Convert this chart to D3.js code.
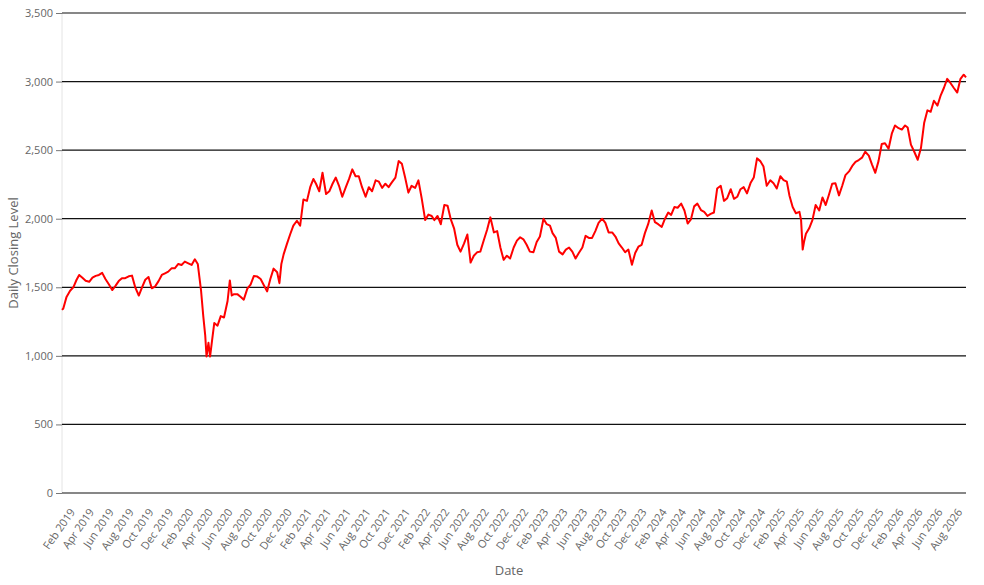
<!DOCTYPE html>
<html>
<head>
<meta charset="utf-8">
<script src="https://cdn.jsdelivr.net/npm/d3@7"></script>
<style>
  body { margin: 0; background: #fff; }
  svg text { font-family: "Open Sans", "DejaVu Sans", sans-serif; }
</style>
</head>
<body>
<svg id="chart"></svg>
<script>
(function(){

    // readings taken roughly every 10 days (1st, 11th, 21st) plus a few extra around the sharp drops
    var dates = [
        "2019-01-07","2019-01-11","2019-01-21","2019-02-01","2019-02-11","2019-02-21","2019-03-01","2019-03-11","2019-03-21",
        "2019-04-01","2019-04-11","2019-04-21","2019-05-01","2019-05-11","2019-05-21","2019-06-01","2019-06-11","2019-06-21",
        "2019-07-01","2019-07-11","2019-07-21","2019-08-01","2019-08-11","2019-08-21","2019-09-01","2019-09-11","2019-09-21",
        "2019-10-01","2019-10-11","2019-10-21","2019-11-01","2019-11-11","2019-11-21","2019-12-01","2019-12-11","2019-12-21",
        "2020-01-01","2020-01-11","2020-01-21","2020-02-01","2020-02-11","2020-02-21","2020-03-01","2020-03-11","2020-03-18",
        "2020-03-24","2020-03-28","2020-04-03","2020-04-08","2020-04-14","2020-04-21","2020-05-01","2020-05-11","2020-05-21",
        "2020-06-01","2020-06-08","2020-06-14","2020-06-21","2020-07-01","2020-07-11","2020-07-21","2020-08-01","2020-08-11",
        "2020-08-21","2020-09-01","2020-09-11","2020-09-21","2020-10-01","2020-10-11","2020-10-21","2020-11-01","2020-11-08",
        "2020-11-14","2020-11-21","2020-12-01","2020-12-11","2020-12-21",
        "2021-01-01","2021-01-11","2021-01-21","2021-02-01","2021-02-11","2021-02-21","2021-03-01","2021-03-11","2021-03-21",
        "2021-04-01","2021-04-11","2021-04-21","2021-05-01","2021-05-11","2021-05-21","2021-06-01","2021-06-11","2021-06-21",
        "2021-07-01","2021-07-11","2021-07-21","2021-08-01","2021-08-11","2021-08-21","2021-09-01","2021-09-11","2021-09-21",
        "2021-10-01","2021-10-11","2021-10-21","2021-11-01","2021-11-11","2021-11-21","2021-12-01","2021-12-11","2021-12-21",
        "2022-01-01","2022-01-11","2022-01-21","2022-02-01","2022-02-11","2022-02-21","2022-03-01","2022-03-11","2022-03-21",
        "2022-04-01","2022-04-11","2022-04-21","2022-05-01","2022-05-11","2022-05-21","2022-06-01","2022-06-11","2022-06-21",
        "2022-07-01","2022-07-11","2022-07-21","2022-08-01","2022-08-11","2022-08-21","2022-09-01","2022-09-11","2022-09-21",
        "2022-10-01","2022-10-11","2022-10-21","2022-11-01","2022-11-11","2022-11-21","2022-12-01","2022-12-11","2022-12-21",
        "2023-01-01","2023-01-11","2023-01-21","2023-02-01","2023-02-11","2023-02-21","2023-03-01","2023-03-11","2023-03-21",
        "2023-04-01","2023-04-11","2023-04-21","2023-05-01","2023-05-11","2023-05-21","2023-06-01","2023-06-11","2023-06-21",
        "2023-07-01","2023-07-11","2023-07-21","2023-08-01","2023-08-11","2023-08-21","2023-09-01","2023-09-11","2023-09-21",
        "2023-10-01","2023-10-11","2023-10-21","2023-11-01","2023-11-11","2023-11-21","2023-12-01","2023-12-11","2023-12-21",
        "2024-01-01","2024-01-11","2024-01-21","2024-02-01","2024-02-11","2024-02-21","2024-03-01","2024-03-11","2024-03-21",
        "2024-04-01","2024-04-11","2024-04-21","2024-05-01","2024-05-11","2024-05-21","2024-06-01","2024-06-11","2024-06-21",
        "2024-07-01","2024-07-11","2024-07-21","2024-08-01","2024-08-11","2024-08-21","2024-09-01","2024-09-11","2024-09-21",
        "2024-10-01","2024-10-11","2024-10-21","2024-11-01","2024-11-11","2024-11-21","2024-12-01","2024-12-11","2024-12-21",
        "2025-01-01","2025-01-11","2025-01-21","2025-02-01","2025-02-11","2025-02-21","2025-03-01","2025-03-11","2025-03-21",
        "2025-04-01","2025-04-06","2025-04-11","2025-04-15","2025-04-21","2025-05-01","2025-05-11","2025-05-21","2025-06-01",
        "2025-06-11","2025-06-21","2025-07-01","2025-07-11","2025-07-21","2025-08-01","2025-08-11","2025-08-21","2025-09-01",
        "2025-09-11","2025-09-21","2025-10-01","2025-10-11","2025-10-21","2025-11-01","2025-11-11","2025-11-21","2025-12-01",
        "2025-12-11","2025-12-21",
        "2026-01-01","2026-01-11","2026-01-21","2026-02-01","2026-02-11","2026-02-21","2026-03-01","2026-03-11","2026-03-21",
        "2026-04-01","2026-04-11","2026-04-21","2026-05-01","2026-05-11","2026-05-21","2026-06-01","2026-06-11","2026-06-21",
        "2026-07-01","2026-07-11","2026-07-21","2026-08-01","2026-08-11","2026-08-21","2026-08-28"
    ];

    var closes = [
        1335,1345,1430,1475,1500,1555,1590,1570,1548,
        1540,1570,1583,1590,1605,1560,1520,1480,1510,
        1545,1566,1566,1580,1585,1500,1440,1500,1555,
        1575,1493,1505,1545,1590,1602,1614,1638,1638,
        1670,1663,1687,1675,1663,1704,1670,1480,1290,
        1150,995,1095,995,1110,1240,1220,1290,1280,
        1400,1550,1440,1450,1450,1431,1410,1490,1520,
        1582,1578,1560,1515,1470,1560,1636,1610,1530,
        1670,1740,1815,1885,1950,
        1985,1950,2140,2130,2230,2290,2255,2200,2335,
        2180,2200,2255,2300,2240,2160,2230,2290,2360,
        2310,2310,2230,2160,2230,2200,2280,2270,2225,
        2255,2230,2265,2300,2420,2400,2300,2190,2240,
        2225,2280,2150,1990,2030,2020,1990,2020,1960,
        2100,2095,1995,1930,1810,1760,1820,1885,1680,
        1730,1755,1760,1845,1920,2010,1900,1910,1790,
        1700,1730,1710,1790,1840,1865,1850,1810,1760,
        1755,1830,1870,2000,1960,1950,1895,1860,1760,
        1740,1775,1790,1760,1710,1750,1790,1875,1860,
        1860,1910,1970,2000,1970,1900,1900,1870,1820,
        1790,1755,1775,1665,1750,1796,1810,1895,1960,
        2060,1975,1960,1940,2000,2045,2028,2085,2080,
        2110,2060,1965,1995,2090,2110,2063,2050,2020,
        2035,2045,2220,2240,2130,2150,2215,2145,2160,
        2215,2230,2185,2260,2300,2440,2420,2380,2240,
        2280,2258,2220,2310,2282,2270,2170,2085,2040,
        2050,1990,1775,1830,1890,1930,1990,2100,2060,
        2155,2100,2175,2255,2258,2170,2240,2318,2345,
        2385,2415,2428,2445,2488,2460,2395,2335,2420,
        2545,2550,
        2510,2620,2680,2660,2650,2680,2665,2540,2490,
        2430,2515,2700,2790,2780,2860,2825,2900,2955,
        3020,2990,2955,2920,3020,3050,3030
    ];

    var yTicks = [0, 500, 1000, 1500, 2000, 2500, 3000, 3500];

    var parse = d3.timeParse("%Y-%m-%d");
    var data = dates.map(function(d, i){ return {date: parse(d), close: closes[i]}; });

    var W = 984, H = 585;
    var margin = {top: 13, right: 18, bottom: 92, left: 62};
    var width = W - margin.left - margin.right;
    var height = H - margin.top - margin.bottom;

    var root = d3.select("#chart")
        .attr("width", W)
        .attr("height", H);

    var svg = root.append("g")
        .attr("transform", "translate(" + margin.left + "," + margin.top + ")");

    var xScale = d3.scaleTime()
        .domain(d3.extent(data, function(d){ return d.date; }))
        .range([0, width]);

    var yScale = d3.scaleLinear()
        .domain([0, 3500])
        .range([height, 0]);

    // light y axis line
    svg.append("line")
        .attr("x1", 0).attr("x2", 0)
        .attr("y1", 0).attr("y2", height)
        .attr("stroke", "#e4e4e4")
        .attr("stroke-width", 1);

    // horizontal grid
    svg.append("g")
        .selectAll("line")
        .data(yTicks)
        .enter()
        .append("line")
            .attr("x1", 0)
            .attr("x2", width)
            .attr("y1", function(d){ return yScale(d); })
            .attr("y2", function(d){ return yScale(d); })
            .attr("stroke", "#111")
            .attr("stroke-width", 1.2);

    var yAxis = svg.append("g")
        .call(d3.axisLeft(yScale).tickValues(yTicks).tickFormat(d3.format(",")).tickSize(6).tickPadding(3));
    yAxis.select(".domain").remove();
    yAxis.selectAll(".tick line").attr("stroke", "#777");
    yAxis.selectAll("text").attr("fill", "#666").attr("font-size", "11px");

    var xTicks = d3.timeMonth.range(xScale.domain()[0], xScale.domain()[1])
        .filter(function(d){ return d.getMonth() % 2 === 1; });

    var xAxis = svg.append("g")
        .attr("transform", "translate(0," + height + ")")
        .call(d3.axisBottom(xScale).tickValues(xTicks).tickFormat(d3.timeFormat("%b %Y")).tickSize(0));
    xAxis.select(".domain").remove();
    xAxis.selectAll("text")
        .attr("fill", "#666")
        .attr("font-size", "11px")
        .attr("text-anchor", "end")
        .attr("x", 0).attr("y", 0).attr("dy", 0)
        .attr("transform", "translate(5,19) rotate(-55)");

    var line = d3.line()
        .x(function(d){ return xScale(d.date); })
        .y(function(d){ return yScale(d.close); });

    svg.append("path")
        .datum(data)
        .attr("fill", "none")
        .attr("stroke", "#ff0000")
        .attr("stroke-width", 2)
        .attr("stroke-linejoin", "round")
        .attr("d", line);

    root.append("text")
        .attr("x", margin.left + width / 2 - 5)
        .attr("y", 575)
        .attr("text-anchor", "middle")
        .attr("fill", "#666")
        .attr("font-size", "13px")
        .text("Date");

    root.append("text")
        .attr("transform", "translate(18," + (margin.top + height / 2) + ") rotate(-90)")
        .attr("text-anchor", "middle")
        .attr("fill", "#666")
        .attr("font-size", "13px")
        .text("Daily Closing Level");

})()
</script>
</body>
</html>
